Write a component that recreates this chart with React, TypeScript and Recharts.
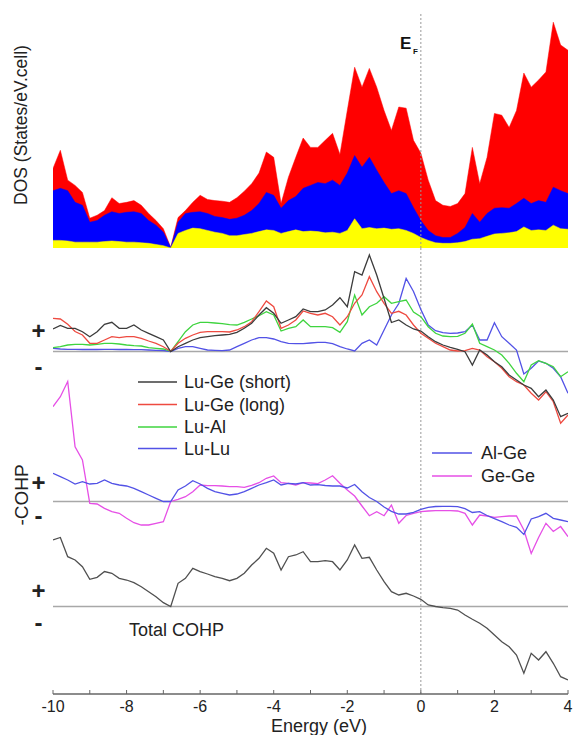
import React from 'react';
import { AreaChart, Area, LineChart, Line, XAxis, YAxis, ReferenceLine } from 'recharts';

// energy grid (eV), 0.2 eV steps
const energy = [
  -10.0, -9.8, -9.6, -9.4, -9.2, -9.0, -8.8, -8.6, -8.4, -8.2,
  -8.0, -7.8, -7.6, -7.4, -7.2, -7.0, -6.8, -6.6, -6.4, -6.2,
  -6.0, -5.8, -5.6, -5.4, -5.2, -5.0, -4.8, -4.6, -4.4, -4.2,
  -4.0, -3.8, -3.6, -3.4, -3.2, -3.0, -2.8, -2.6, -2.4, -2.2,
  -2.0, -1.8, -1.6, -1.4, -1.2, -1.0, -0.8, -0.6, -0.4, -0.2,
  0.0, 0.2, 0.4, 0.6, 0.8, 1.0, 1.2, 1.4, 1.6, 1.8,
  2.0, 2.2, 2.4, 2.6, 2.8, 3.0, 3.2, 3.4, 3.6, 3.8, 4.0,
];
const energyTicks = [-10, -9, -8, -7, -6, -5, -4, -3, -2, -1, 0, 1, 2, 3, 4];

// DOS (states/eV.cell)
const dosTotal = [
  13.6, 16.7, 11.6, 10.7, 9.5, 5.1, 5.6, 6.4, 8.6, 7.6,
  7.8, 8.1, 7.3, 5.9, 4.7, 3.3, 0.1, 5.2, 6.4, 7.8,
  9.0, 8.3, 8.1, 8.0, 7.8, 8.6, 9.7, 11.0, 12.8, 16.4,
  15.5, 7.6, 12.1, 15.5, 18.8, 17.2, 17.2, 18.4, 19.6, 16.0,
  23.5, 30.9, 27.5, 30.7, 27.5, 23.5, 20.1, 24.1, 23.9, 18.4,
  16.2, 11.6, 8.1, 7.3, 7.1, 7.6, 9.3, 17.2, 11.0, 15.5,
  23.0, 22.7, 20.6, 23.5, 29.9, 27.5, 28.7, 30.1, 38.6, 34.7, 33.8,
];
const dosLu = [
  9.8, 10.2, 9.8, 7.8, 7.3, 4.4, 4.7, 5.6, 6.2, 5.9,
  6.1, 6.2, 5.9, 4.7, 3.9, 2.7, 0.1, 4.4, 5.9, 6.1,
  6.2, 5.9, 5.4, 5.2, 4.9, 5.1, 5.6, 6.4, 7.6, 9.5,
  9.0, 6.8, 8.1, 8.8, 10.2, 10.7, 11.2, 11.0, 11.6, 10.7,
  12.8, 15.8, 13.8, 15.5, 13.3, 11.2, 9.3, 9.8, 9.3, 6.9,
  4.7, 3.0, 2.1, 1.8, 1.8, 2.5, 3.5, 5.9, 4.4, 5.9,
  6.8, 6.9, 6.8, 7.6, 8.5, 7.6, 8.1, 7.8, 10.4, 9.8, 9.3,
];
const dosAlGe = [
  1.3, 1.3, 1.2, 1.0, 1.0, 1.0, 1.0, 1.1, 1.2, 1.1,
  1.0, 1.0, 0.9, 0.8, 0.6, 0.4, 0.0, 2.5, 3.0, 3.4,
  3.3, 3.0, 2.7, 2.5, 2.1, 2.1, 2.3, 2.5, 2.8, 3.1,
  3.0, 2.5, 2.8, 3.1, 2.8, 2.9, 2.8, 2.6, 2.7, 2.5,
  3.0, 5.0, 3.3, 3.5, 3.3, 3.4, 3.2, 3.3, 3.0, 2.5,
  1.8, 1.3, 0.9, 0.8, 0.8, 0.9, 1.1, 1.5, 1.6, 2.0,
  2.4, 2.5, 2.6, 2.8, 3.6, 3.0, 3.1, 3.0, 3.9, 3.3, 3.2,
];

// -COHP, Lu bonds
const luGeShort = [
  2.25, 2.6, 2.32, 2.32, 1.98, 1.48, 1.98, 2.72, 2.92, 2.32,
  2.32, 2.65, 2.15, 1.82, 1.48, 1.15, 0.0, 0.48, 0.82, 1.15,
  1.38, 1.48, 1.58, 1.65, 1.72, 1.92, 2.32, 2.82, 3.65, 4.38,
  3.82, 2.82, 3.15, 3.48, 4.25, 3.98, 3.98, 4.15, 4.65, 5.38,
  4.48, 7.98, 7.65, 9.65, 7.65, 5.3, 2.9, 3.15, 2.65, 2.25,
  2.05, 1.48, 0.98, 0.65, 0.42, 0.22, -0.02, -1.35, 0.15, -0.35,
  -1.02, -1.52, -2.35, -2.85, -3.35, -3.68, -4.52, -3.85, -4.85, -6.52, -6.18,
];
const luGeLong = [
  3.32, 3.25, 2.72, 2.0, 1.65, 0.82, 0.82, 1.15, 1.48, 1.38,
  1.48, 1.48, 1.32, 1.05, 0.82, 0.48, 0.03, 0.82, 1.32, 1.65,
  1.92, 1.98, 1.98, 1.98, 1.95, 2.15, 2.48, 2.98, 3.98, 5.05,
  4.48, 2.32, 2.65, 3.15, 4.05, 3.82, 3.65, 3.82, 3.48, 2.65,
  3.48, 4.82, 5.65, 7.48, 5.98, 4.82, 3.82, 4.02, 3.65, 2.65,
  1.82, 1.32, 0.82, 0.48, 0.15, 0.05, 0.08, 0.32, 0.15, -0.52,
  -1.02, -1.68, -2.52, -3.02, -3.35, -4.18, -4.85, -4.02, -5.02, -7.18, -6.35,
];
const luAl = [
  0.38, 0.48, 0.65, 0.72, 0.72, 0.65, 0.72, 0.82, 0.82, 0.75,
  0.65, 0.58, 0.55, 0.38, 0.32, 0.25, 0.02, 0.98, 1.98, 2.65,
  2.92, 2.92, 2.85, 2.78, 2.68, 2.65, 2.92, 3.25, 3.58, 3.98,
  3.65, 2.05, 2.32, 2.48, 3.15, 2.48, 2.48, 2.48, 2.38, 1.92,
  2.98, 5.65, 3.65, 4.48, 4.82, 5.48, 4.82, 4.98, 5.15, 3.95,
  3.48, 2.48, 1.82, 1.55, 1.48, 1.52, 1.82, 2.75, 0.82, 0.48,
  0.15, -0.35, -1.18, -2.18, -3.02, -1.35, -0.92, -1.18, -1.52, -2.52, -2.02,
];
const luLu = [
  0.32, 0.25, 0.22, 0.22, 0.2, 0.2, 0.2, 0.22, 0.22, 0.2,
  0.2, 0.18, 0.18, 0.15, 0.12, 0.1, 0.0, 0.32, 0.48, 0.48,
  0.32, 0.15, 0.12, 0.08, 0.15, 0.48, 0.82, 1.15, 1.38, 1.38,
  1.25, 0.98, 0.82, 0.78, 0.78, 0.85, 0.92, 0.92, 0.78, 0.48,
  0.25, 0.05, 0.82, 1.15, 0.65, 2.15, 3.65, 4.8, 7.3, 6.0,
  4.2, 2.65, 2.08, 1.88, 1.82, 1.85, 1.98, 2.65, 1.15, 1.15,
  2.88, 1.48, 0.82, 0.15, -2.25, -1.68, -0.95, -1.18, -1.68, -2.52, -4.18,
];

// -COHP, Al-Ge and Ge-Ge
const alGe = [
  2.82, 2.48, 2.15, 1.75, 1.98, 1.75, 1.82, 2.15, 1.82, 1.65,
  1.55, 1.32, 0.98, 0.65, 0.32, 0.0, 0.0, 1.15, 1.55, 2.08,
  1.75, 1.32, 0.98, 0.82, 0.65, 0.75, 0.98, 1.32, 1.65, 1.88,
  2.15, 1.65, 1.82, 1.75, 1.88, 1.65, 1.68, 1.6, 1.55, 1.55,
  1.35, 1.7, 0.98, 0.4, 0.0, -0.55, -0.98, -1.25, -1.25, -1.08,
  -0.78, -0.58, -0.5, -0.48, -0.48, -0.52, -0.72, -1.1, -1.02, -1.4,
  -1.72, -2.02, -2.35, -2.58, -3.3, -1.75, -1.52, -1.18, -1.68, -1.85, -2.02,
];
const geGe = [
  9.48, 10.48, 12.0, 5.48, 4.15, -0.18, -0.25, -0.68, -1.02, -1.18,
  -1.68, -2.12, -2.35, -2.35, -2.18, -2.02, 0.0, 0.22, 0.48, 0.98,
  1.65, 1.58, 1.58, 1.55, 1.48, 1.48, 1.42, 1.62, 1.88, 2.32,
  2.55, 1.88, 1.82, 1.65, 1.88, 1.85, 1.78, 2.15, 2.58, 1.82,
  1.15, 0.55, -0.45, -1.42, -1.02, -1.42, -0.35, -2.18, -1.4, -1.18,
  -1.02, -0.95, -0.92, -0.92, -0.92, -0.95, -1.18, -2.35, -1.35, -1.45,
  -1.58, -1.52, -1.45, -1.45, -2.85, -5.2, -3.6, -2.18, -3.0, -2.5, -3.52,
];

// total -COHP
const totalCohp = [
  6.65, 6.9, 4.98, 4.65, 3.98, 2.72, 2.92, 3.5, 3.32, 2.82,
  2.65, 2.38, 1.98, 1.48, 0.98, 0.38, 0.0, 2.32, 2.82, 3.82,
  3.48, 3.25, 2.98, 2.82, 2.58, 2.82, 3.32, 4.15, 4.82, 5.82,
  5.32, 3.65, 4.98, 5.15, 5.48, 4.48, 4.48, 4.58, 4.48, 3.65,
  4.65, 6.15, 4.82, 4.92, 3.65, 2.48, 1.48, 1.15, 1.32, 1.05,
  0.72, 0.15, 0.0, -0.12, -0.18, -0.35, -0.85, -1.28, -1.68, -2.18,
  -2.85, -3.52, -4.02, -4.85, -6.68, -4.68, -5.35, -4.52, -5.68, -7.02, -7.35,
];

const legendLeft = [
  { name: 'Lu-Ge (short)', color: '#3c3c3c' },
  { name: 'Lu-Ge (long)', color: '#ee4a40' },
  { name: 'Lu-Al', color: '#3fd43f' },
  { name: 'Lu-Lu', color: '#5252e6' },
];
const legendRight = [
  { name: 'Al-Ge', color: '#5252e6' },
  { name: 'Ge-Ge', color: '#e64fe6' },
];

const dosData = energy.map((e, i) => ({ e, total: dosTotal[i], lu: dosLu[i], alge: dosAlGe[i] }));
const cohpData = energy.map((e, i) => ({
  e,
  luGeShort: luGeShort[i],
  luGeLong: luGeLong[i],
  luAl: luAl[i],
  luLu: luLu[i],
  alGe: alGe[i],
  geGe: geGe[i],
  total: totalCohp[i],
}));

const FONT = '"Liberation Sans", Arial, Helvetica, sans-serif';
const FRAME = { stroke: '#666', strokeWidth: 1.5 };

// panel geometry (page px)
const SPLIT = 248;
const AXIS_Y = 694;
const PX_PER_UNIT = 10;
// each COHP group gets its own y scale, with zero on its baseline
const domainFor = (baseline: number): [number, number] => [
  -(AXIS_Y - baseline) / PX_PER_UNIT,
  (baseline - SPLIT) / PX_PER_UNIT,
];

// inward ticks every 1 eV, labels every 2 eV
const EnergyTick = (props: any) => {
  const { x, y, payload } = props;
  const v = payload.value;
  const major = v % 2 === 0;
  return (
    <g>
      <line x1={x} x2={x} y1={y} y2={y - 4} stroke="#666" strokeWidth={1} />
      {major && (
        <text x={x} y={y + 18} textAnchor="middle" fontSize={16} fill="#222" fontFamily={FONT}>
          {v}
        </text>
      )}
    </g>
  );
};

const lineProps = { type: 'linear' as const, dot: false, strokeWidth: 1.3, isAnimationActive: false };

export default function App() {
  return (
    <div style={{ position: 'relative', width: 573, height: 735, background: '#fff', fontFamily: FONT }}>
      <style>{'body{margin:0;background:#fff}'}</style>

      <div style={{ position: 'absolute', left: 0, top: 0 }}>
        <AreaChart width={573} height={SPLIT} data={dosData} margin={{ top: 14, right: 5, bottom: 0, left: 53 }}>
          <XAxis dataKey="e" type="number" domain={[-10, 4]} allowDataOverflow orientation="top"
            height={0} tick={false} tickLine={false} axisLine={FRAME} />
          <YAxis domain={[0, 40]} allowDataOverflow width={0} tick={false} tickLine={false} axisLine={FRAME} />
          <YAxis yAxisId="r" orientation="right" domain={[0, 40]} width={0} tick={false} tickLine={false} axisLine={FRAME} />
          <ReferenceLine x={0} stroke="#999" strokeDasharray="2 2" />
          <Area dataKey="total" type="linear" stroke="#ff0000" strokeWidth={0.5} fill="#ff0000" fillOpacity={1} isAnimationActive={false} />
          <Area dataKey="lu" type="linear" stroke="#0000ff" strokeWidth={0.5} fill="#0000ff" fillOpacity={1} isAnimationActive={false} />
          <Area dataKey="alge" type="linear" stroke="#ffff00" strokeWidth={0.5} fill="#ffff00" fillOpacity={1} isAnimationActive={false} />
        </AreaChart>
      </div>

      <div style={{ position: 'absolute', left: 0, top: SPLIT }}>
        <LineChart width={573} height={735 - SPLIT} data={cohpData} margin={{ top: 0, right: 5, bottom: 0, left: 53 }}>
          <XAxis dataKey="e" type="number" domain={[-10, 4]} allowDataOverflow ticks={energyTicks} interval={0}
            height={41} tickSize={0} tickMargin={0} tickLine={false} tick={<EnergyTick />} axisLine={FRAME} />
          <YAxis yAxisId="g1" domain={domainFor(351.5)} allowDataOverflow width={0} tick={false} tickLine={false} axisLine={FRAME} />
          <YAxis yAxisId="g2" orientation="right" domain={domainFor(501.5)} allowDataOverflow width={0} tick={false} tickLine={false} axisLine={FRAME} />
          <YAxis yAxisId="g3" hide domain={domainFor(606.5)} allowDataOverflow />
          <ReferenceLine yAxisId="g1" x={0} stroke="#999" strokeDasharray="2 2" />
          <ReferenceLine yAxisId="g1" y={0} stroke="#a8a8a8" strokeWidth={1.5} />
          <ReferenceLine yAxisId="g2" y={0} stroke="#a8a8a8" strokeWidth={1.5} />
          <ReferenceLine yAxisId="g3" y={0} stroke="#a8a8a8" strokeWidth={1.5} />
          <Line yAxisId="g1" dataKey="luLu" stroke={legendLeft[3].color} {...lineProps} />
          <Line yAxisId="g1" dataKey="luAl" stroke={legendLeft[2].color} {...lineProps} />
          <Line yAxisId="g1" dataKey="luGeLong" stroke={legendLeft[1].color} {...lineProps} />
          <Line yAxisId="g1" dataKey="luGeShort" stroke={legendLeft[0].color} {...lineProps} />
          <Line yAxisId="g2" dataKey="geGe" stroke={legendRight[1].color} {...lineProps} />
          <Line yAxisId="g2" dataKey="alGe" stroke={legendRight[0].color} {...lineProps} />
          <Line yAxisId="g3" dataKey="total" stroke="#505050" {...lineProps} />
        </LineChart>
      </div>

      {/* labels, legends and bonding/antibonding marks */}
      <svg width={573} height={735} style={{ position: 'absolute', left: 0, top: 0, pointerEvents: 'none' }} fontFamily={FONT}>
        <text transform="translate(27,125) rotate(-90)" textAnchor="middle" fontSize={17.5} fill="#222">
          DOS (States/eV.cell)
        </text>
        <text transform="translate(28,495) rotate(-90)" textAnchor="middle" fontSize={19} fill="#222">
          -COHP
        </text>
        {[330, 482, 590].map((y) => (
          <text key={'p' + y} x={38.5} y={y} textAnchor="middle" dominantBaseline="central" fontSize={24} fontWeight="bold" fill="#222">+</text>
        ))}
        {[366, 515, 622].map((y) => (
          <text key={'m' + y} x={38.5} y={y} textAnchor="middle" dominantBaseline="central" fontSize={24} fontWeight="bold" fill="#222">-</text>
        ))}
        <text x={400} y={49} fontSize={17} fontWeight="bold" fill="#111">E</text>
        <text x={413} y={54} fontSize={8} fontWeight="bold" fill="#111">F</text>

        {legendLeft.map((s, i) => {
          const y = [382, 404.5, 427, 448.5][i];
          return (
            <g key={s.name}>
              <line x1={138} x2={177} y1={y} y2={y} stroke={s.color} strokeWidth={1.3} />
              <text x={184} y={y} dominantBaseline="central" fontSize={18} fill="#222">{s.name}</text>
            </g>
          );
        })}
        {legendRight.map((s, i) => {
          const y = [453, 476][i];
          return (
            <g key={s.name}>
              <line x1={432} x2={472} y1={y} y2={y} stroke={s.color} strokeWidth={1.3} />
              <text x={481} y={y} dominantBaseline="central" fontSize={18} fill="#222">{s.name}</text>
            </g>
          );
        })}
        <text x={129} y={630} dominantBaseline="central" fontSize={18} fill="#222">Total COHP</text>
        <text x={319} y={731.5} textAnchor="middle" fontSize={18} fill="#222">Energy (eV)</text>
      </svg>
    </div>
  );
}
